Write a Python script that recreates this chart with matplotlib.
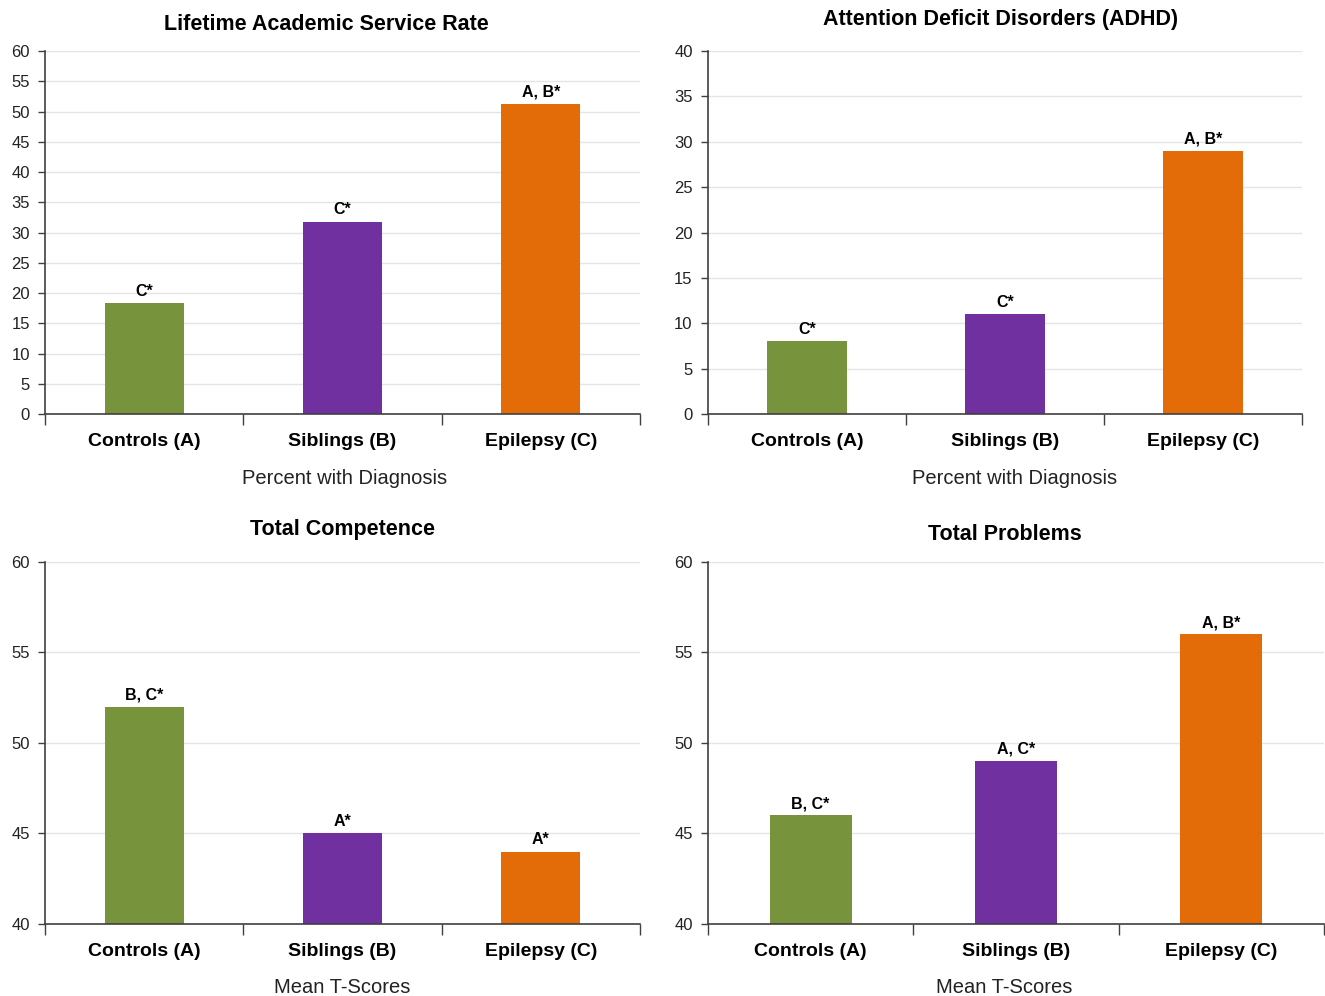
import numpy as np
import matplotlib.pyplot as plt

plt.rcParams['font.family'] = ['Liberation Sans', 'DejaVu Sans']

# groups shared by all four panels
groups = ['Controls (A)', 'Siblings (B)', 'Epilepsy (C)']
bar_colors = ['#77933c', '#7030a0', '#e36c09']

# panel data
academic = [18.4, 31.8, 51.3]
academic_marks = ['C*', 'C*', 'A, B*']
adhd = [8, 11, 29]
adhd_marks = ['C*', 'C*', 'A, B*']
competence = [52, 45, 44]
competence_marks = ['B, C*', 'A*', 'A*']
problems = [46, 49, 56]
problems_marks = ['B, C*', 'A, C*', 'A, B*']

fig = plt.figure(figsize=(13.25, 9.96), dpi=100)
fig.patch.set_facecolor('white')

panels = [
    # rect, values, marks, title, title pos, xlabel, xlabel x (axes frac), ylim, yticks
    ([0.034, 0.5843, 0.449, 0.3645], academic, academic_marks,
     'Lifetime Academic Service Rate', (326, 24), 'Percent with Diagnosis', 0.503,
     (0, 60), np.arange(0, 61, 5)),
    ([0.5343, 0.5843, 0.4483, 0.3645], adhd, adhd_marks,
     'Attention Deficit Disorders (ADHD)', (1001, 20), 'Percent with Diagnosis', 0.517,
     (0, 40), np.arange(0, 41, 5)),
    ([0.034, 0.0723, 0.449, 0.3635], competence, competence_marks,
     'Total Competence', (343, 530), 'Mean T-Scores', 0.5,
     (40, 60), np.arange(40, 61, 5)),
    ([0.5343, 0.0723, 0.465, 0.3635], problems, problems_marks,
     'Total Problems', (1005, 535), 'Mean T-Scores', 0.48,
     (40, 60), np.arange(40, 61, 5)),
]

x = np.arange(len(groups))

for rect, vals, marks, title, tpos, xlab, xlab_x, ylim, yticks in panels:
    ax = fig.add_axes(rect)
    ax.set_axisbelow(True)
    ax.yaxis.grid(True, color='#e4e4e4', linewidth=1.0)
    base = ylim[0]
    heights = [v - base for v in vals]
    bars = ax.bar(x, heights, bottom=base, width=0.4, color=bar_colors)
    for b, m in zip(bars, marks):
        ax.annotate(m, (b.get_x() + b.get_width() / 2, b.get_y() + b.get_height()),
                    xytext=(0, 3), textcoords='offset points',
                    ha='center', va='bottom', fontsize=11.5, fontweight='bold')
    ax.set_xlim(-0.5, len(groups) - 0.5)
    ax.set_ylim(*ylim)
    ax.set_yticks(yticks)
    ax.set_xticks(x)
    ax.set_xticklabels(groups, fontsize=14, fontweight='bold')
    ax.set_xticks(np.arange(-0.5, len(groups), 1.0), minor=True)
    ax.tick_params(axis='x', which='major', length=0, pad=13.5)
    ax.tick_params(axis='x', which='minor', length=8, width=1, color='#404040')
    ax.tick_params(axis='y', length=5, width=1, color='#404040',
                   labelsize=12, pad=6, labelcolor='#222222')
    ax.set_xlabel(xlab, fontsize=14.5, labelpad=13.5, color='#222222')
    ax.xaxis.label.set_x(xlab_x)
    for s in ['top', 'right']:
        ax.spines[s].set_visible(False)
    for s in ['left', 'bottom']:
        ax.spines[s].set_color('#404040')
        ax.spines[s].set_linewidth(1.2)
    fig.text(tpos[0] / 1325, 1 - tpos[1] / 996, title, ha='center', va='center',
             fontsize=15.5, fontweight='bold')

fig.savefig('out.png', dpi=100)
